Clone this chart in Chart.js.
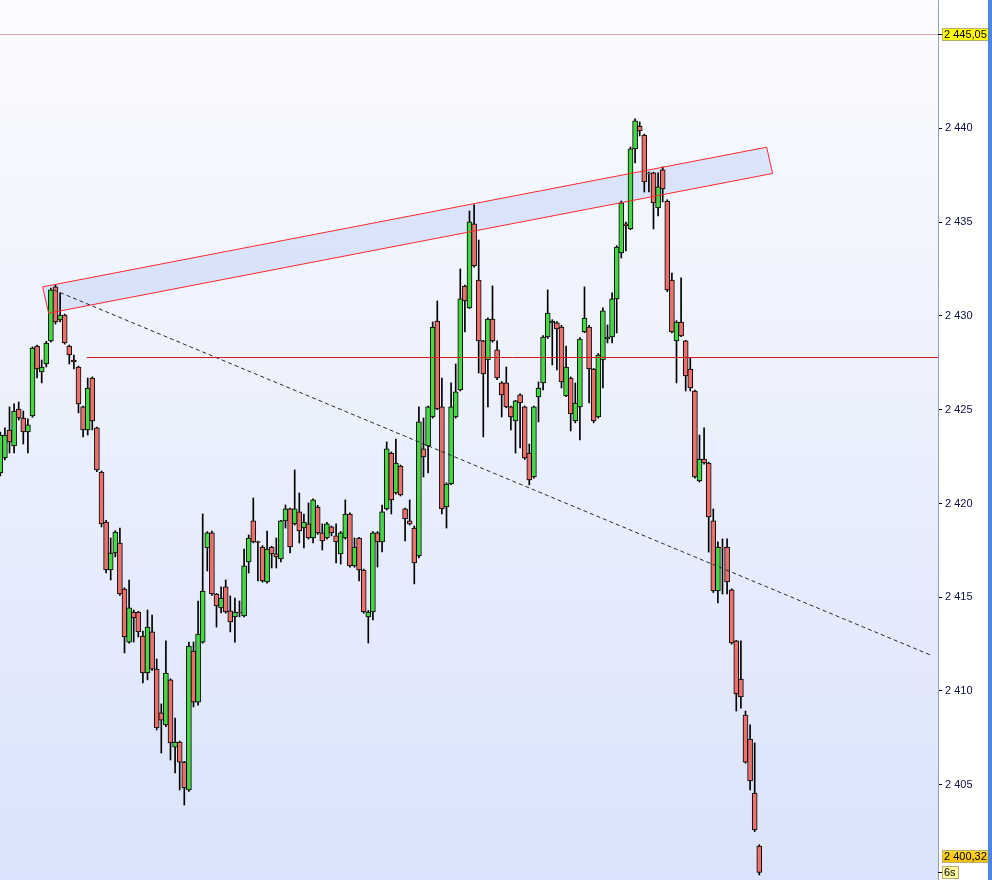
<!DOCTYPE html>
<html>
<head>
<meta charset="utf-8">
<script src="https://cdn.jsdelivr.net/npm/chart.js@4.4.1/dist/chart.umd.min.js"></script>
<style>
  body { margin: 0; overflow: hidden; background: #fff; }
  canvas { display: block; }
</style>
</head>
<body>
<canvas id="chart" width="992" height="880"></canvas>
<script>
// OHLC, one candle per bar (oldest first)
const open = [
  2421.63, 2422.43, 2423.92, 2423.07, 2425.04, 2424.56, 2423.81, 2424.67, 2428.40, 2427.01,
  2427.44, 2428.67, 2431.55, 2429.79, 2430.05, 2428.40, 2427.65, 2427.28, 2425.15, 2423.92,
  2426.69, 2424.03, 2421.68, 2419.01, 2416.45, 2417.36, 2417.89, 2415.44, 2412.61, 2414.21,
  2414.21, 2412.93, 2410.96, 2413.15, 2411.17, 2408.83, 2408.19, 2410.59, 2407.01, 2407.28,
  2406.21, 2404.72, 2412.13, 2409.41, 2412.61, 2417.63, 2418.43, 2415.17, 2414.43, 2415.55,
  2414.27, 2413.95, 2414.21, 2414.00, 2416.88, 2419.07, 2417.97, 2417.68, 2415.81, 2417.68,
  2417.31, 2417.04, 2419.07, 2419.71, 2418.91, 2419.55, 2418.69, 2418.91, 2418.16, 2419.81,
  2418.43, 2418.16, 2418.75, 2418.27, 2417.31, 2418.16, 2419.44, 2416.67, 2418.16, 2416.45,
  2413.95, 2414.21, 2418.43, 2417.95, 2419.71, 2422.69, 2420.56, 2422.00, 2419.71, 2419.07,
  2418.69, 2417.20, 2422.91, 2423.07, 2424.61, 2429.73, 2425.15, 2419.81, 2421.04, 2424.61,
  2426.05, 2431.60, 2430.43, 2434.91, 2431.92, 2428.67, 2427.65, 2429.84, 2428.19, 2426.43,
  2426.43, 2425.15, 2424.40, 2425.79, 2425.15, 2422.69, 2421.41, 2425.68, 2426.43, 2428.88,
  2429.63, 2429.63, 2429.41, 2425.73, 2426.69, 2424.40, 2425.15, 2429.15, 2429.41, 2427.17,
  2424.61, 2427.65, 2428.77, 2428.88, 2430.91, 2433.36, 2434.91, 2434.64, 2438.91, 2440.13,
  2439.65, 2437.63, 2437.63, 2435.76, 2437.79, 2436.13, 2431.92, 2428.67, 2429.68, 2428.67,
  2427.17, 2426.00, 2421.20, 2422.37, 2422.16, 2419.07, 2415.33, 2417.68, 2417.68, 2415.39,
  2412.67, 2410.64, 2408.72, 2407.44, 2404.56, 2401.73
];
const high = [
  2423.81, 2424.03, 2425.15, 2425.31, 2425.41, 2424.93, 2424.51, 2428.35, 2428.45, 2427.65,
  2428.65, 2431.49, 2431.65, 2431.23, 2430.10, 2428.45, 2427.92, 2427.33, 2425.20, 2426.69,
  2426.75, 2424.08, 2421.73, 2419.10, 2418.16, 2418.55, 2418.69, 2415.50, 2415.92, 2414.32,
  2414.25, 2413.20, 2414.32, 2414.05, 2411.71, 2409.31, 2412.67, 2410.65, 2408.56, 2407.33,
  2406.25, 2412.61, 2412.61, 2414.80, 2419.44, 2418.50, 2418.53, 2415.20, 2415.55, 2415.92,
  2415.07, 2414.96, 2414.80, 2417.57, 2418.32, 2420.29, 2418.00, 2417.75, 2418.53, 2417.72,
  2418.16, 2419.10, 2419.92, 2419.75, 2421.79, 2420.56, 2419.44, 2420.03, 2420.25, 2419.90,
  2418.91, 2419.00, 2418.80, 2418.91, 2418.50, 2420.19, 2419.50, 2418.16, 2418.20, 2416.50,
  2414.30, 2418.50, 2418.50, 2419.92, 2423.28, 2422.75, 2423.44, 2422.05, 2419.75, 2420.19,
  2418.80, 2425.15, 2424.56, 2425.20, 2429.68, 2430.80, 2426.69, 2421.10, 2426.43, 2427.44,
  2432.51, 2431.65, 2435.60, 2435.92, 2434.05, 2428.70, 2429.90, 2431.60, 2428.67, 2426.50,
  2427.28, 2425.20, 2425.50, 2425.85, 2425.20, 2423.17, 2425.20, 2426.48, 2428.95, 2431.39,
  2429.80, 2429.70, 2429.50, 2428.40, 2426.75, 2426.43, 2428.85, 2431.55, 2429.50, 2427.20,
  2428.00, 2430.43, 2429.52, 2431.23, 2433.75, 2436.13, 2435.00, 2439.01, 2440.51, 2440.35,
  2439.70, 2437.67, 2437.67, 2437.63, 2437.95, 2436.20, 2432.29, 2429.75, 2432.03, 2428.70,
  2427.76, 2426.05, 2423.65, 2424.03, 2422.20, 2419.71, 2417.95, 2418.11, 2418.11, 2415.45,
  2412.70, 2412.67, 2408.93, 2408.19, 2407.23, 2401.80
];
const low = [
  2421.47, 2422.32, 2422.69, 2422.69, 2424.45, 2423.17, 2422.69, 2424.60, 2426.69, 2426.43,
  2427.28, 2428.60, 2429.57, 2429.68, 2428.50, 2427.44, 2427.17, 2424.83, 2423.55, 2423.65,
  2423.92, 2421.70, 2418.75, 2416.29, 2415.92, 2417.15, 2415.10, 2412.03, 2412.55, 2412.61,
  2412.88, 2410.43, 2410.59, 2411.10, 2407.92, 2406.69, 2408.10, 2406.32, 2405.63, 2404.72,
  2403.92, 2404.65, 2409.15, 2409.25, 2412.55, 2416.40, 2415.10, 2413.41, 2414.16, 2414.15,
  2413.15, 2412.61, 2413.95, 2413.95, 2416.29, 2417.90, 2415.87, 2415.80, 2415.75, 2416.56,
  2416.56, 2416.88, 2418.69, 2417.36, 2418.85, 2417.89, 2417.63, 2418.10, 2417.89, 2418.35,
  2417.52, 2418.10, 2418.27, 2416.83, 2416.77, 2418.10, 2416.60, 2416.60, 2415.87, 2414.15,
  2412.56, 2413.79, 2416.61, 2417.41, 2419.65, 2419.44, 2420.50, 2420.40, 2418.00, 2418.85,
  2415.71, 2417.10, 2421.41, 2421.63, 2424.55, 2425.00, 2419.44, 2418.69, 2421.00, 2424.55,
  2426.00, 2429.15, 2430.40, 2432.60, 2426.96, 2423.55, 2425.15, 2428.60, 2426.60, 2424.61,
  2425.10, 2423.92, 2422.69, 2422.96, 2422.35, 2420.99, 2421.35, 2424.35, 2426.05, 2428.80,
  2427.39, 2427.12, 2426.16, 2425.70, 2423.87, 2424.30, 2423.39, 2429.10, 2425.36, 2424.30,
  2424.55, 2426.16, 2428.56, 2428.56, 2429.09, 2433.09, 2433.47, 2434.60, 2438.16, 2439.60,
  2436.61, 2436.61, 2434.64, 2435.33, 2436.08, 2431.30, 2429.10, 2426.43, 2428.90, 2426.00,
  2426.00, 2421.35, 2421.15, 2422.10, 2417.41, 2415.25, 2414.69, 2415.17, 2415.17, 2412.50,
  2408.93, 2409.09, 2406.15, 2404.72, 2402.50, 2400.19
];
const close = [
  2423.65, 2423.65, 2423.28, 2424.93, 2424.56, 2423.81, 2424.19, 2428.29, 2427.17, 2427.28,
  2428.56, 2431.39, 2429.68, 2430.05, 2428.56, 2427.92, 2427.55, 2425.31, 2423.92, 2426.16,
  2424.40, 2421.79, 2418.91, 2416.45, 2417.36, 2418.48, 2415.17, 2412.88, 2414.43, 2413.89,
  2413.15, 2410.96, 2413.41, 2411.17, 2408.03, 2408.45, 2410.96, 2407.23, 2407.28, 2406.21,
  2404.83, 2412.40, 2409.41, 2413.04, 2415.33, 2418.43, 2415.17, 2414.53, 2414.96, 2414.21,
  2413.68, 2414.21, 2414.16, 2416.67, 2418.16, 2417.95, 2417.92, 2415.87, 2417.57, 2417.31,
  2417.15, 2419.07, 2419.71, 2417.68, 2419.71, 2418.53, 2419.01, 2418.16, 2420.19, 2418.43,
  2418.00, 2418.91, 2418.43, 2417.95, 2418.43, 2419.44, 2416.67, 2417.68, 2416.45, 2414.21,
  2414.21, 2418.43, 2417.95, 2419.55, 2422.91, 2420.19, 2422.16, 2420.45, 2419.17, 2418.91,
  2416.83, 2424.35, 2422.48, 2425.15, 2429.41, 2425.04, 2419.71, 2421.04, 2425.15, 2425.95,
  2430.91, 2430.80, 2435.02, 2432.67, 2428.67, 2426.91, 2429.84, 2428.67, 2426.69, 2425.79,
  2425.15, 2424.61, 2425.47, 2425.36, 2422.43, 2421.25, 2425.15, 2426.16, 2428.88, 2430.16,
  2429.73, 2429.31, 2426.48, 2427.28, 2424.77, 2425.36, 2428.77, 2429.89, 2427.17, 2424.40,
  2427.92, 2430.27, 2428.88, 2430.91, 2433.68, 2436.03, 2434.80, 2438.91, 2440.40, 2439.87,
  2437.15, 2437.57, 2436.03, 2436.88, 2436.77, 2431.39, 2429.15, 2429.68, 2428.93, 2426.80,
  2426.16, 2421.41, 2422.37, 2422.16, 2419.28, 2415.33, 2417.68, 2417.63, 2415.81, 2412.56,
  2409.84, 2409.68, 2406.21, 2405.20, 2402.59, 2400.32
];

// price axis
const priceMin = 2399.92;
const priceMax = 2446.85;
const tickStep = 5;

// drawings (bar index, price)
const channelX = [9.2, 166.6, 167.9, 10.5];
const channelY = [2431.55, 2439.00, 2437.60, 2430.15];
const trendX = [11.6, 202.2];
const trendY = [2431.39, 2411.92];
const levelPrice = 2427.81;
const levelFrom = 18.8;
const markPrice = 2445.05;
const lastPrice = close[close.length - 1];
const timerText = '6s';

const fmt = function (v, dec) {
    let s = dec ? v.toFixed(dec).replace('.', ',') : String(v);
    return s.replace(/^(\d)(\d{3})/, '$1 $2');
};

let wicks = open.map(function (o, i) {
    return { x: i, y: [low[i], high[i]] };
});
let bodies = open.map(function (o, i) {
    return { x: i, y: [o, close[i]] };
});
let bodyColors = open.map(function (o, i) {
    return close[i] >= o ? '#46d646' : '#ea706c';
});

const decorations = {
    id: 'decorations',
    beforeDraw(chart) {
        const { ctx, chartArea: a, width, height } = chart;
        ctx.save();
        ctx.fillStyle = '#ffffff';
        ctx.fillRect(0, 0, width, height);
        let g = ctx.createLinearGradient(0, a.top, 0, a.bottom);
        g.addColorStop(0, '#fbfcff');
        g.addColorStop(1, '#dae3fb');
        ctx.fillStyle = g;
        ctx.fillRect(a.left, a.top, a.right - a.left, a.bottom - a.top);
        ctx.restore();
    },
    beforeDatasetsDraw(chart) {
        const { ctx, chartArea: a, scales: { x, y } } = chart;
        ctx.save();
        ctx.beginPath();
        ctx.rect(a.left, a.top, a.right - a.left, a.bottom - a.top);
        ctx.clip();
        ctx.beginPath();
        channelX.forEach(function (v, i) {
            let px = x.getPixelForValue(v), py = y.getPixelForValue(channelY[i]);
            if (i === 0) ctx.moveTo(px, py); else ctx.lineTo(px, py);
        });
        ctx.closePath();
        ctx.fillStyle = 'rgba(196, 212, 246, 0.55)';
        ctx.fill();
        ctx.restore();
    },
    afterDatasetsDraw(chart) {
        const { ctx, chartArea: a, scales: { x, y } } = chart;
        ctx.save();
        ctx.beginPath();
        ctx.rect(a.left, a.top, a.right - a.left, a.bottom - a.top);
        ctx.clip();
        // channel outline
        ctx.beginPath();
        channelX.forEach(function (v, i) {
            let px = x.getPixelForValue(v), py = y.getPixelForValue(channelY[i]);
            if (i === 0) ctx.moveTo(px, py); else ctx.lineTo(px, py);
        });
        ctx.closePath();
        ctx.strokeStyle = '#ff2a2a';
        ctx.lineWidth = 1;
        ctx.stroke();
        // dashed trend line
        ctx.beginPath();
        ctx.setLineDash([4, 3]);
        ctx.moveTo(x.getPixelForValue(trendX[0]), y.getPixelForValue(trendY[0]));
        ctx.lineTo(x.getPixelForValue(trendX[1]), y.getPixelForValue(trendY[1]));
        ctx.strokeStyle = '#2a2a2a';
        ctx.stroke();
        ctx.setLineDash([]);
        // horizontal level
        let ly = Math.round(y.getPixelForValue(levelPrice)) + 0.5;
        ctx.beginPath();
        ctx.moveTo(x.getPixelForValue(levelFrom), ly);
        ctx.lineTo(a.right, ly);
        ctx.strokeStyle = '#d81818';
        ctx.stroke();
        // marker line
        let my = Math.round(y.getPixelForValue(markPrice)) + 0.5;
        ctx.beginPath();
        ctx.moveTo(a.left, my);
        ctx.lineTo(a.right, my);
        ctx.strokeStyle = '#e4a6ac';
        ctx.stroke();
        ctx.restore();
    },
    afterDraw(chart) {
        const { ctx, chartArea: a, scales: { y }, width, height } = chart;
        ctx.save();
        ctx.font = '11px "Liberation Sans", Arial, sans-serif';
        ctx.textBaseline = 'middle';
        const box = function (top, w, fill, text) {
            ctx.fillStyle = fill;
            ctx.fillRect(a.right + 4, top, w, 13);
            ctx.strokeStyle = '#b8b070';
            ctx.lineWidth = 1;
            ctx.strokeRect(a.right + 4.5, top + 0.5, w - 1, 12);
            ctx.fillStyle = '#000';
            ctx.fillText(text, a.right + 6, top + 7);
        };
        // marker label
        let my = Math.round(y.getPixelForValue(markPrice));
        ctx.fillStyle = '#000';
        ctx.fillRect(a.right, my, 4, 1);
        box(my - 6, 47, '#ffff00', fmt(markPrice, 2));
        // last price + timer
        let py = Math.round(y.getPixelForValue(lastPrice));
        ctx.fillStyle = '#000';
        ctx.fillRect(a.right, py, 4, 1);
        let timerTop = a.bottom - 14;
        let g = ctx.createLinearGradient(0, timerTop - 16, 0, timerTop - 3);
        g.addColorStop(0, '#ffd92e');
        g.addColorStop(1, '#f3bd00');
        box(timerTop - 16, 47, g, fmt(lastPrice, 2));
        box(timerTop, 17, '#fff9a0', timerText);
        // blue edge
        ctx.fillStyle = '#4d86e2';
        ctx.fillRect(width - 4, 0, 4, height);
        ctx.restore();
    }
};

new Chart(document.getElementById('chart').getContext('2d'), {
    type: 'bar',
    data: {
        datasets: [
            {
                label: 'wick',
                data: wicks,
                backgroundColor: '#000000',
                borderWidth: 0,
                barThickness: 1,
                grouped: false,
                order: 2
            },
            {
                label: 'body',
                data: bodies,
                backgroundColor: bodyColors,
                borderColor: '#000000',
                borderWidth: 1,
                borderSkipped: false,
                barThickness: 5,
                grouped: false,
                order: 1
            }
        ]
    },
    options: {
        responsive: false,
        animation: false,
        devicePixelRatio: 1,
        events: [],
        layout: { padding: 0 },
        plugins: {
            legend: { display: false },
            tooltip: { enabled: false }
        },
        scales: {
            x: {
                type: 'linear',
                display: false,
                offset: false,
                min: -0.065,
                max: 203.85
            },
            y: {
                position: 'right',
                min: priceMin,
                max: priceMax,
                afterFit: function (scale) {
                    scale.width = 54;
                    scale.paddingTop = 0;
                    scale.paddingBottom = 0;
                },
                afterBuildTicks: function (scale) {
                    scale.ticks = scale.ticks.filter(function (t) {
                        return t.value % tickStep === 0 && t.value > priceMin + 2 && t.value < priceMax - 3;
                    });
                },
                ticks: {
                    stepSize: tickStep,
                    includeBounds: false,
                    padding: 3,
                    color: '#0c1040',
                    font: { family: '"Liberation Sans", Arial, sans-serif', size: 11 },
                    callback: function (v) { return fmt(v); }
                },
                grid: {
                    drawOnChartArea: false,
                    drawTicks: true,
                    tickLength: 4,
                    color: '#000000'
                },
                border: { color: '#97a3b0' }
            }
        }
    },
    plugins: [decorations]
});
</script>
</body>
</html>
